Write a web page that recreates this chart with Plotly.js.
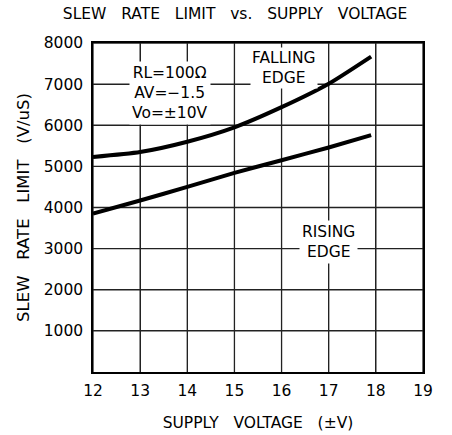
<!DOCTYPE html>
<html>
<head>
<meta charset="utf-8">
<script src="https://cdn.plot.ly/plotly-3.0.1.min.js"></script>
<style>html,body{margin:0;padding:0;background:#fff;}#chart{width:452px;height:435px;}</style>
</head>
<body>
<div id="chart"></div>
<script>
// Data
const supplyVoltage = [12, 13, 14, 15, 16, 17, 17.9];
const fallingEdge = [5230, 5350, 5600, 5950, 6440, 7010, 7670];
const risingEdge = [3850, 4170, 4500, 4840, 5150, 5460, 5760];
const xTicks = [12, 13, 14, 15, 16, 17, 18, 19];
const yTicks = [1000, 2000, 3000, 4000, 5000, 6000, 7000, 8000];
const xRange = [12, 19];
const yRange = [0, 8000];

const FONT = "DejaVu Sans, Liberation Sans, sans-serif";
const GRID = {color: '#222', width: 1.3};

const traces = [
  {x: supplyVoltage, y: fallingEdge, type: 'scatter', mode: 'lines',
   line: {color: '#000', width: 4, shape: 'spline', smoothing: 0.6}, name: 'Falling edge'},
  {x: supplyVoltage, y: risingEdge, type: 'scatter', mode: 'lines',
   line: {color: '#000', width: 4, shape: 'spline', smoothing: 0.6}, name: 'Rising edge'}
];

// grid lines from the tick arrays (backup to the native grid)
const gridShapes = [
  ...xTicks.map(v => ({type: 'line', layer: 'below', xref: 'x', yref: 'y', x0: v, x1: v, y0: yRange[0], y1: yRange[1], line: GRID})),
  ...yTicks.map(v => ({type: 'line', layer: 'below', xref: 'x', yref: 'y', x0: xRange[0], x1: xRange[1], y0: v, y1: v, line: GRID}))
];

const SP = '\u00a0\u00a0 ';
const layout = {
  width: 452, height: 435,
  margin: {l: 93, r: 29, t: 43, b: 63},
  showlegend: false,
  font: {family: FONT, size: 15, color: '#000'},
  title: {
    text: ['SLEW', 'RATE', 'LIMIT', 'vs.', 'SUPPLY', 'VOLTAGE'].join(SP),
    font: {family: FONT, size: 15.5, color: '#000'},
    x: 0.52, xanchor: 'center', y: 0.968, yanchor: 'middle'
  },
  xaxis: {
    range: xRange, tickmode: 'array', tickvals: xTicks,
    ticktext: xTicks.map(String),
    showgrid: true, gridcolor: GRID.color, gridwidth: GRID.width,
    showline: true, linecolor: '#000', linewidth: 1.5, mirror: true,
    ticks: 'outside', ticklen: 4, tickcolor: '#fff',
    tickfont: {family: FONT, size: 15.5, color: '#000'},
    title: {text: ['SUPPLY', 'VOLTAGE', '(±V)'].join(SP), font: {family: FONT, size: 15.5, color: '#000'}, standoff: 18}
  },
  yaxis: {
    range: yRange, tickmode: 'array', tickvals: yTicks,
    ticktext: yTicks.map(String),
    showgrid: true, gridcolor: GRID.color, gridwidth: GRID.width,
    showline: true, linecolor: '#000', linewidth: 1.5, mirror: true,
    ticks: 'outside', ticklen: 5, tickcolor: '#fff',
    tickfont: {family: FONT, size: 15.5, color: '#000'},
    title: {text: ['SLEW', 'RATE', 'LIMIT', '(V/uS)'].join(SP), font: {family: FONT, size: 16.5, color: '#000'}, standoff: 10}
  },
  shapes: gridShapes,
  annotations: [
    {x: 13.63, y: 6780, xref: 'x', yref: 'y', text: 'RL=100Ω<br>AV=−1.5<br>Vo=±10V',
     showarrow: false, bgcolor: '#fff', borderpad: 2, align: 'center',
     font: {family: FONT, size: 15.5, color: '#000'}},
    {x: 16.05, y: 7400, xref: 'x', yref: 'y', text: 'FALLING<br>EDGE',
     showarrow: false, bgcolor: '#fff', borderpad: 1, align: 'center',
     font: {family: FONT, size: 15.5, color: '#000'}},
    {x: 17.0, y: 3170, xref: 'x', yref: 'y', text: 'RISING<br>EDGE',
     showarrow: false, bgcolor: '#fff', borderpad: 2, align: 'center',
     font: {family: FONT, size: 15.5, color: '#000'}}
  ]
};

Plotly.newPlot('chart', traces, layout, {displayModeBar: false});
</script>
</body>
</html>
